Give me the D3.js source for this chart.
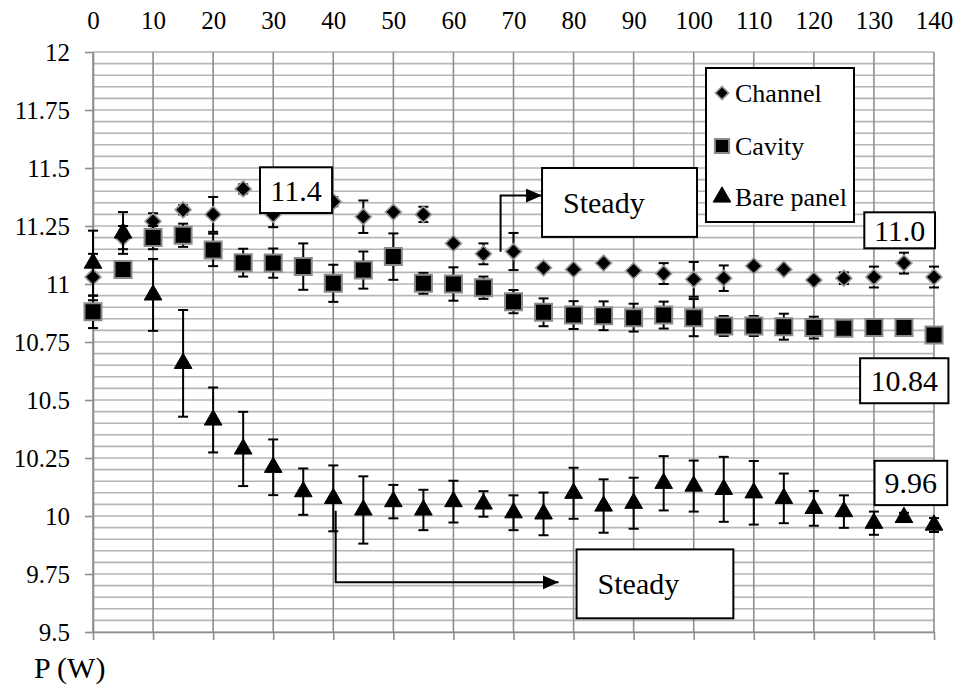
<!DOCTYPE html>
<html>
<head>
<meta charset="utf-8">
<script src="https://cdn.jsdelivr.net/npm/d3@7"></script>
<style>
  body { margin: 0; background: white; }
  svg text { font-family: "Liberation Serif", "Times New Roman", "DejaVu Serif", serif; fill: black; }
</style>
</head>
<body>
<svg id="chart" width="958" height="688" font-family="Liberation Serif, serif"></svg>
<script>
/* Data: P (W) against value, with error bars */
var power = [0, 5, 10, 15, 20, 25, 30, 35, 40, 45, 50, 55, 60, 65, 70, 75, 80, 85, 90, 95, 100, 105, 110, 115, 120, 125, 130, 135, 140];

var channel = [11.03, 11.20, 11.27, 11.32, 11.30, 11.41, 11.30, 11.37, 11.355, 11.29, 11.31, 11.30, 11.175, 11.13, 11.14,
  11.07, 11.063, 11.09, 11.057, 11.045, 11.02, 11.025, 11.078, 11.063, 11.017, 11.025, 11.03, 11.09, 11.03];
var channelErr = [0.1, 0.05, 0.035, 0.02, 0.075, 0.02, 0.055, 0.03, 0.02, 0.07, 0, 0.033, 0, 0.045, 0.08,
  0, 0, 0, 0, 0.045, 0.075, 0.055, 0, 0, 0, 0.025, 0.045, 0.045, 0.045];

var cavity = [10.88, 11.063, 11.20, 11.21, 11.147, 11.092, 11.09, 11.075, 11.003, 11.06, 11.118, 11.003, 11.0, 10.984, 10.924,
  10.878, 10.866, 10.863, 10.855, 10.866, 10.855, 10.819, 10.819, 10.816, 10.812, 10.809, 10.813, 10.813, 10.78];
var cavityErr = [0.07, 0.02, 0.05, 0.05, 0.07, 0.06, 0.063, 0.1, 0.08, 0.08, 0.1, 0.045, 0.072, 0.048, 0.05,
  0.06, 0.06, 0.062, 0.06, 0.058, 0.08, 0.043, 0.043, 0.056, 0.047, 0.01, 0, 0, 0];

var bare = [11.09, 11.22, 10.953, 10.658, 10.414, 10.289, 10.21, 10.105, 10.076, 10.026, 10.062, 10.026, 10.062, 10.052, 10.014,
  10.009, 10.098, 10.043, 10.055, 10.141, 10.129, 10.115, 10.1, 10.076, 10.033, 10.019, 9.969, 9.994, 9.961];
var bareErr = [0.14, 0.09, 0.155, 0.23, 0.14, 0.16, 0.12, 0.1, 0.142, 0.145, 0.072, 0.087, 0.09, 0.055, 0.075,
  0.092, 0.11, 0.115, 0.11, 0.117, 0.11, 0.14, 0.137, 0.107, 0.075, 0.07, 0.05, 0.02, 0.03];

var xTicks = [0, 10, 20, 30, 40, 50, 60, 70, 80, 90, 100, 110, 120, 130, 140];
var yTicks = [9.5, 9.75, 10, 10.25, 10.5, 10.75, 11, 11.25, 11.5, 11.75, 12];
var seriesNames = ['Channel', 'Cavity', 'Bare panel'];

/* Annotation boxes, in data units */
var notes = [
  { text: '11.4',   x0: 27.8,  x1: 39.8,  y0: 11.503, y1: 11.306, anchor: 'middle' },
  { text: 'Steady', x0: 74.75, x1: 100.55, y0: 11.5,  y1: 11.203, anchor: 'start' },
  { text: '11.0',   x0: 128.4, x1: 140.17, y0: 11.309, y1: 11.154, anchor: 'middle' },
  { text: '10.84',  x0: 127.7, x1: 142.4, y0: 10.68,  y1: 10.486, anchor: 'middle' },
  { text: '9.96',   x0: 130.1, x1: 142.2, y0: 10.238, y1: 10.047, anchor: 'middle' },
  { text: 'Steady', x0: 80.5,  x1: 106.6, y0: 9.856,  y1: 9.559,  anchor: 'start' }
];
var arrows = [
  [{ x: 67.85, y: 11.139 }, { x: 67.85, y: 11.381 }, { x: 74.75, y: 11.381 }],
  [{ x: 40.4, y: 10.023 }, { x: 40.4, y: 9.714 }, { x: 77.5, y: 9.714 }]
];

var serif = '"Liberation Serif", "Times New Roman", serif';
var svg = d3.select('#chart');
var x = d3.scaleLinear().domain([0, 140]).range([93, 934]);
var y = d3.scaleLinear().domain([9.5, 12]).range([632, 52]);

/* Grid */
var hGrid = d3.range(0, 51).map(i => 9.5 + i * 0.05);
svg.append('g').selectAll('line').data(hGrid).join('line')
  .attr('x1', x(0)).attr('x2', x(140))
  .attr('y1', d => y(d)).attr('y2', d => y(d))
  .attr('stroke', '#b5b5b5').attr('stroke-width', 1.6);
svg.append('g').selectAll('line').data(xTicks).join('line')
  .attr('x1', d => x(d)).attr('x2', d => x(d))
  .attr('y1', y(12)).attr('y2', y(9.5))
  .attr('stroke', '#8e8e8e').attr('stroke-width', 1.6);

/* Axes */
var yAxis = svg.append('g').attr('transform', 'translate(' + x(0) + ',0)')
  .call(d3.axisLeft(y).tickValues(yTicks).tickSize(8).tickSizeOuter(0).tickPadding(15).tickFormat(d => String(d)));
var xAxis = svg.append('g').attr('transform', 'translate(0,' + y(9.5) + ')')
  .call(d3.axisBottom(x).tickValues(xTicks).tickSize(8).tickSizeOuter(0).tickFormat(''));
var xLabels = svg.append('g').attr('transform', 'translate(0,29)')
  .call(d3.axisTop(x).tickValues(xTicks).tickSize(0).tickPadding(0).tickFormat(d => String(d)));
xLabels.select('.domain').remove();
[yAxis, xAxis].forEach(g => {
  g.select('.domain').attr('stroke', '#8e8e8e').attr('stroke-width', 1.6);
  g.selectAll('.tick line').attr('stroke', '#8e8e8e').attr('stroke-width', 1.6);
});
[yAxis, xLabels].forEach(g => {
  g.attr('font-family', null).attr('font-size', null);
  g.selectAll('text').style('font-family', serif).style('font-size', '25px').attr('fill', 'black');
});

svg.append('text').attr('x', 34).attr('y', 678).style('font-family', serif).style('font-size', '30px').text('P (W)');

/* Markers */
var shapes = {
  diamond: d3.symbol().type(d3.symbolSquare).size(128)(),
  square: d3.symbol().type(d3.symbolSquare).size(289)(),
  triangle: d3.symbol().type(d3.symbolTriangle).size(135)()
};
function marker(g, shape) {
  var p = g.append('path').attr('d', shapes[shape]).attr('fill', 'black');
  if (shape == 'diamond') p.attr('transform', 'rotate(45)').attr('stroke', '#9a9a9a').attr('stroke-width', 1.6);
  if (shape == 'square') p.attr('stroke', '#8a8a8a').attr('stroke-width', 2);
  if (shape == 'triangle') p.attr('stroke', 'black').attr('stroke-width', 1);
  return p;
}

function drawSeries(vals, errs, shape) {
  var pts = power.map((p, i) => ({ x: p, y: vals[i], e: errs[i] }));
  var g = svg.append('g');
  var eb = pts.filter(d => d.e > 0);
  g.selectAll('line.bar').data(eb).join('line').attr('class', 'bar')
    .attr('x1', d => x(d.x)).attr('x2', d => x(d.x))
    .attr('y1', d => y(d.y + d.e)).attr('y2', d => y(d.y - d.e))
    .attr('stroke', 'black').attr('stroke-width', 2);
  [1, -1].forEach(s => {
    g.selectAll('line.cap' + (s > 0 ? 'hi' : 'lo')).data(eb).join('line').attr('class', 'cap' + (s > 0 ? 'hi' : 'lo'))
      .attr('x1', d => x(d.x) - 5).attr('x2', d => x(d.x) + 5)
      .attr('y1', d => y(d.y + s * d.e)).attr('y2', d => y(d.y + s * d.e))
      .attr('stroke', 'black').attr('stroke-width', 2);
  });
  g.selectAll('g.pt').data(pts).join('g').attr('class', 'pt')
    .attr('transform', d => 'translate(' + x(d.x) + ',' + y(d.y) + ')')
    .each(function () { marker(d3.select(this), shape); });
}

drawSeries(channel, channelErr, 'diamond');
drawSeries(cavity, cavityErr, 'square');
drawSeries(bare, bareErr, 'triangle');

/* Annotations */
svg.append('defs').append('marker')
  .attr('id', 'head').attr('markerUnits', 'userSpaceOnUse')
  .attr('markerWidth', 18).attr('markerHeight', 16).attr('refX', 16).attr('refY', 7)
  .attr('orient', 'auto')
  .append('path').attr('d', 'M0,0 L16,7 L0,14 Z').attr('fill', 'black');

var line = d3.line().x(d => x(d.x)).y(d => y(d.y));
arrows.forEach(a => {
  svg.append('path').attr('d', line(a))
    .attr('fill', 'none').attr('stroke', 'black').attr('stroke-width', 2)
    .attr('marker-end', 'url(#head)');
});

notes.forEach(n => {
  var bx = x(n.x0), by = y(n.y0), bw = x(n.x1) - x(n.x0), bh = y(n.y1) - y(n.y0);
  svg.append('rect').attr('x', bx).attr('y', by).attr('width', bw).attr('height', bh)
    .attr('fill', 'white').attr('stroke', 'black').attr('stroke-width', 2);
  svg.append('text')
    .attr('x', n.anchor == 'middle' ? bx + bw / 2 : bx + 21)
    .attr('y', by + bh / 2).attr('dy', '0.35em')
    .attr('text-anchor', n.anchor).style('font-family', serif).style('font-size', '30px').text(n.text);
});

/* Legend */
var legend = svg.append('g').attr('transform', 'translate(706,68)');
legend.append('rect').attr('width', 148).attr('height', 154)
  .attr('fill', 'white').attr('stroke', 'black').attr('stroke-width', 2);
var legendShapes = ['diamond', 'square', 'triangle'];
var legendY = [25, 78, 129];
seriesNames.forEach((name, i) => {
  var item = legend.append('g').attr('transform', 'translate(16,' + legendY[i] + ')');
  var m = marker(item, legendShapes[i]);
  if (legendShapes[i] == 'diamond') m.attr('d', d3.symbol().type(d3.symbolSquare).size(90)());
  if (legendShapes[i] == 'square') m.attr('d', d3.symbol().type(d3.symbolSquare).size(200)());
  item.append('text').attr('x', 13).attr('dy', '0.35em').style('font-family', serif).style('font-size', '26px').text(name);
});
</script>
</body>
</html>
